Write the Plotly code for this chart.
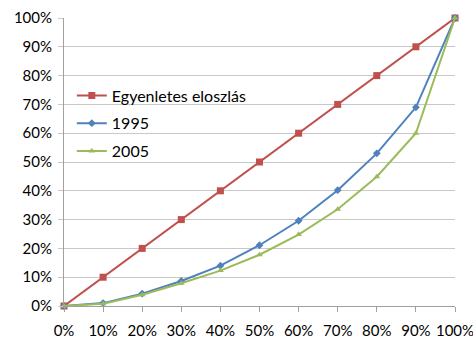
import plotly.graph_objects as go

shares = [0, 0.1, 0.2, 0.3, 0.4, 0.5, 0.6, 0.7, 0.8, 0.9, 1.0]
egyenletes = [0, 0.1, 0.2, 0.3, 0.4, 0.5, 0.6, 0.7, 0.8, 0.9, 1.0]
ev_1995 = [0, 0.010, 0.043, 0.087, 0.140, 0.211, 0.296, 0.402, 0.530, 0.690, 1.0]
ev_2005 = [0, 0.008, 0.039, 0.079, 0.123, 0.178, 0.248, 0.336, 0.449, 0.600, 1.0]

fig = go.Figure()
fig.add_trace(go.Scatter(
    x=shares, y=egyenletes, name="Egyenletes eloszlás", mode="lines+markers",
    legendgroup="a",
    line=dict(color="#C0504D", width=2),
    marker=dict(symbol="square", size=7, color="#C0504D"),
    cliponaxis=False))
fig.add_trace(go.Scatter(
    x=shares, y=ev_1995, name="1995", mode="lines+markers",
    legendgroup="b",
    line=dict(color="#4F81BD", width=2),
    marker=dict(symbol="diamond", size=6, color="#4F81BD"),
    cliponaxis=False))
fig.add_trace(go.Scatter(
    x=shares, y=ev_2005, name="2005", mode="lines+markers",
    legendgroup="c",
    line=dict(color="#9BBB59", width=2),
    marker=dict(symbol="triangle-up", size=6, color="#9BBB59"),
    cliponaxis=False))

font_family = "Lato, Liberation Sans, Arial, sans-serif"
fig.update_layout(
    width=473, height=342,
    margin=dict(l=64, r=18, t=18, b=36),
    paper_bgcolor="white", plot_bgcolor="white",
    font=dict(family=font_family, size=15, color="#000000"),
    showlegend=True,
    legend=dict(x=0.02, y=0.79, xanchor="left", yanchor="top",
                bgcolor="rgba(0,0,0,0)", font=dict(size=16),
                tracegroupgap=4, itemwidth=30),
    xaxis=dict(range=[0, 1], tickvals=shares, tickformat=".0%",
               showgrid=False, zeroline=False, automargin=False,
               showline=True, linecolor="#A0A0A0", linewidth=1,
               ticks="outside", ticklen=5, tickcolor="#A0A0A0",
               ticklabelstandoff=6, ticklabeloverflow="allow",
               tickfont=dict(size=15)),
    yaxis=dict(range=[0, 1], tickvals=egyenletes, tickformat=".0%",
               showgrid=True, gridcolor="#C8C8C8", gridwidth=1,
               zeroline=False, automargin=False,
               showline=True, linecolor="#A0A0A0", linewidth=1,
               ticks="outside", ticklen=5, tickcolor="#C8C8C8",
               ticklabelstandoff=3, ticklabeloverflow="allow",
               tickfont=dict(size=15)),
)

fig.write_html("out.html")
